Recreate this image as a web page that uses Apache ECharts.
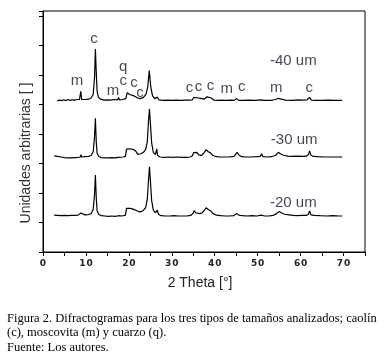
<!DOCTYPE html>
<html>
<head>
<meta charset="utf-8">
<script src="https://cdn.jsdelivr.net/npm/echarts@6/dist/echarts.min.js"></script>
<style>
  html, body { margin: 0; padding: 0; background: #fff; }
  #chart { width: 387px; height: 360px; }
</style>
</head>
<body>
<div id="chart"></div>
<script>
// 2θ / intensidad (unidades arbitrarias, con desplazamiento vertical)
const trace40 = [
  [3.3, 5.12], [3.8, 5.15], [4.3, 5.13], [4.8, 5.16], [5.3, 5.13], [5.8, 5.17], [6.3, 5.14], [6.8, 5.16],
  [7.3, 5.14], [7.8, 5.17], [8.5, 5.17],
  [8.8, 5.45], [9.0, 5.17], [9.8, 5.17], [10.6, 5.18], [11.2, 5.22], [11.7, 5.35], [12.0, 5.9], [12.2, 6.88],
  [12.4, 6.1], [12.6, 5.45], [12.9, 5.25], [13.4, 5.18], [14.2, 5.15], [15.0, 5.16], [15.8, 5.15], [16.6, 5.17],
  [17.4, 5.16], [17.6, 5.24], [17.8, 5.16], [18.6, 5.17], [19.3, 5.2], [19.6, 5.4], [19.9, 5.43], [20.2, 5.34],
  [20.6, 5.38], [21.0, 5.3], [21.5, 5.27], [22.0, 5.22], [22.6, 5.2], [23.4, 5.24], [24.0, 5.35], [24.4, 5.6],
  [24.75, 6.15], [25.1, 5.6], [25.5, 5.3], [26.0, 5.2], [26.6, 5.25], [27.0, 5.16], [28, 5.14], [29, 5.15],
  [30, 5.14], [31, 5.15], [32, 5.14], [33, 5.15], [34, 5.15], [34.8, 5.16], [35.1, 5.24], [35.5, 5.19],
  [35.9, 5.23], [36.3, 5.17], [37.0, 5.2], [37.5, 5.18], [38.2, 5.26], [38.6, 5.2], [39.2, 5.22], [39.8, 5.15],
  [40.6, 5.14], [41.5, 5.15], [42.5, 5.14], [43.5, 5.15], [44.5, 5.14], [45.1, 5.2], [45.6, 5.14], [46.5, 5.14],
  [48, 5.15], [49.5, 5.14], [50.8, 5.16], [51.5, 5.14], [53, 5.14], [54.2, 5.17], [54.8, 5.21], [55.5, 5.18],
  [56.5, 5.15], [58, 5.14], [59.5, 5.16], [60.5, 5.15], [61.5, 5.16], [62.1, 5.24], [62.5, 5.15], [63.5, 5.14],
  [65, 5.14], [66.5, 5.15], [68, 5.14], [69.7, 5.14]
]
const trace30 = [
  [2.6, 3.26], [3.4, 3.24], [4.2, 3.22], [5.0, 3.2], [5.8, 3.19], [6.6, 3.19], [7.4, 3.2], [8.2, 3.21],
  [8.7, 3.22], [8.85, 3.3], [9.0, 3.22], [9.8, 3.23], [10.6, 3.24], [11.2, 3.27], [11.7, 3.4], [12.0, 3.9],
  [12.2, 4.53], [12.4, 3.75], [12.6, 3.35], [13.0, 3.24], [13.6, 3.2], [14.4, 3.19], [15.2, 3.19], [16.0, 3.2],
  [16.8, 3.19], [17.5, 3.21], [17.7, 3.26], [17.9, 3.21], [18.6, 3.22], [19.2, 3.24], [19.45, 3.49], [19.8, 3.52],
  [20.2, 3.5], [20.6, 3.51], [21.1, 3.47], [21.6, 3.42], [22.1, 3.31], [22.8, 3.33], [23.4, 3.38], [23.9, 3.47],
  [24.3, 3.75], [24.6, 4.5], [24.8, 4.85], [25.0, 4.4], [25.3, 3.7], [25.7, 3.38], [26.2, 3.3], [26.5, 3.5],
  [26.7, 3.27], [27.3, 3.22], [28.3, 3.21], [29.3, 3.22], [30.3, 3.21], [31.3, 3.22], [32.3, 3.21], [33.3, 3.21],
  [34.3, 3.22], [34.8, 3.26], [35.1, 3.37], [35.4, 3.32], [35.8, 3.38], [36.3, 3.29], [36.9, 3.27], [37.5, 3.36],
  [38.0, 3.47], [38.5, 3.4], [39.0, 3.36], [39.6, 3.27], [40.4, 3.23], [41.4, 3.22], [42.4, 3.22], [43.4, 3.22],
  [44.5, 3.24], [45.2, 3.38], [45.7, 3.28], [46.3, 3.23], [47.3, 3.22], [48.5, 3.22], [49.7, 3.23], [50.6, 3.24],
  [50.9, 3.33], [51.2, 3.23], [52.2, 3.22], [53.2, 3.23], [54.2, 3.28], [54.8, 3.38], [55.4, 3.32], [56.0, 3.28],
  [57.0, 3.25], [58.0, 3.24], [59.3, 3.25], [60.2, 3.24], [61.3, 3.25], [61.8, 3.3], [62.1, 3.43], [62.4, 3.28],
  [63.0, 3.24], [64.0, 3.23], [65.5, 3.22], [67.0, 3.22], [68.5, 3.22], [69.7, 3.22]
]
const trace20 = [
  [2.6, 1.25], [3.4, 1.24], [4.2, 1.23], [5.0, 1.24], [5.8, 1.23], [6.6, 1.24], [7.4, 1.24], [8.2, 1.25],
  [8.6, 1.27], [8.8, 1.32], [9.0, 1.26], [9.8, 1.26], [10.6, 1.27], [11.2, 1.3], [11.7, 1.45], [12.0, 1.95],
  [12.2, 2.61], [12.4, 1.85], [12.6, 1.4], [13.0, 1.27], [13.6, 1.23], [14.4, 1.22], [15.2, 1.21], [16.0, 1.22],
  [16.8, 1.21], [17.6, 1.23], [18.4, 1.22], [19.2, 1.25], [19.45, 1.48], [19.8, 1.52], [20.3, 1.48], [20.8, 1.46],
  [21.4, 1.43], [22.0, 1.39], [22.6, 1.36], [23.3, 1.4], [23.9, 1.5], [24.3, 1.8], [24.6, 2.5], [24.8, 2.89],
  [25.0, 2.45], [25.3, 1.75], [25.7, 1.42], [26.2, 1.33], [26.6, 1.42], [26.9, 1.28], [27.5, 1.23], [28.5, 1.22],
  [29.5, 1.22], [30.5, 1.23], [31.5, 1.22], [32.5, 1.22], [33.5, 1.22], [34.4, 1.24], [34.9, 1.3], [35.2, 1.4],
  [35.6, 1.33], [36.0, 1.38], [36.4, 1.3], [37.0, 1.32], [37.6, 1.42], [38.0, 1.5], [38.5, 1.44], [39.0, 1.4],
  [39.6, 1.3], [40.4, 1.25], [41.4, 1.23], [42.4, 1.22], [43.4, 1.22], [44.4, 1.23], [45.1, 1.31], [45.6, 1.25],
  [46.4, 1.23], [47.5, 1.22], [48.7, 1.23], [49.8, 1.22], [50.8, 1.25], [51.6, 1.22], [52.6, 1.22], [53.6, 1.24],
  [54.4, 1.3], [55.0, 1.37], [55.6, 1.32], [56.3, 1.28], [57.3, 1.26], [58.3, 1.24], [59.3, 1.23], [60.3, 1.24],
  [61.3, 1.24], [61.8, 1.28], [62.1, 1.39], [62.4, 1.26], [63.2, 1.24], [64.5, 1.23], [66.0, 1.22], [67.5, 1.23],
  [69.0, 1.22], [69.7, 1.22]
]

// identificación de fases sobre el difractograma superior
const phaseMarks = [
  ['m', 7.9, 5.8], ['c', 11.9, 7.22], ['m', 16.3, 5.46], ['q', 18.7, 6.27], ['c', 18.7, 5.8],
  ['c', 21.2, 5.73], ['c', 22.6, 5.39], ['c', 34.1, 5.56], ['c', 36.2, 5.59], ['c', 39.0, 5.63],
  ['m', 42.8, 5.53], ['c', 46.3, 5.59], ['m', 54.3, 5.56], ['c', 62.0, 5.56]
]
const sizeLabels = [['-40 um', 58.3, 6.47], ['-30 um', 58.5, 3.8], ['-20 um', 58.3, 1.66]]

const xTicks = { min: 0, max: 75, step: 5 }

const chart = echarts.init(document.getElementById('chart'), null, { renderer: 'canvas' })

const lineSeries = (data) => ({
  type: 'line',
  data,
  showSymbol: false,
  symbol: 'none',
  silent: true,
  lineStyle: { color: '#000', width: 1.2 },
})

const textSeries = (items, fontSize) => ({
  type: 'scatter',
  symbolSize: 0,
  silent: true,
  data: items.map(([t, x, y]) => ({ name: t, value: [x, y] })),
  label: {
    show: true,
    position: 'inside',
    formatter: p => p.name,
    color: '#14142a',
    fontFamily: 'Liberation Sans',
    fontSize,
  },
})

chart.setOption({
  animation: false,
  backgroundColor: '#fff',
  grid: { left: 43, right: 22, top: 11, bottom: 108, show: true, borderColor: '#000', borderWidth: 1 },
  xAxis: {
    type: 'value',
    min: xTicks.min,
    max: xTicks.max,
    interval: xTicks.step,
    axisLine: { lineStyle: { color: '#000', width: 1 } },
    axisTick: { inside: false, length: 4, lineStyle: { color: '#000' } },
    axisLabel: {
      margin: 7,
      color: '#222',
      fontFamily: 'DejaVu Sans',
      fontWeight: 'bold',
      fontSize: 9,
      formatter: v => (v % 10 === 0 && v < 75 ? String(v).split('').join('\u200a') : ''),
    },
    splitLine: { show: false },
  },
  yAxis: {
    type: 'value',
    min: 0,
    max: 8.17,
    interval: 1,
    axisLine: { show: true, lineStyle: { color: '#000', width: 1 } },
    axisTick: { show: true, inside: false, length: 4, lineStyle: { color: '#000' } },
    axisLabel: { show: false },
    splitLine: { show: false },
  },
  graphic: [
    {
      type: 'text', x: 26, y: 153, rotation: Math.PI / 2,
      style: { text: 'Unidades arbitrarias [ ]', fill: '#333', font: '14px "Liberation Sans"', textAlign: 'center', textVerticalAlign: 'middle' },
    },
    {
      type: 'text', x: 200, y: 283,
      style: { text: '2 Theta [°]', fill: '#222', font: '14px "Liberation Sans"', textAlign: 'center', textVerticalAlign: 'middle' },
    },
    {
      type: 'text', x: 7, y: 319,
      style: { text: 'Figura 2. Difractogramas para los tres tipos de tamaños analizados; caolín', fill: '#000', font: '12.5px "Liberation Serif"', textAlign: 'left', textVerticalAlign: 'middle' },
    },
    {
      type: 'text', x: 7, y: 333,
      style: { text: '(c), moscovita (m) y cuarzo (q).', fill: '#000', font: '12.5px "Liberation Serif"', textAlign: 'left', textVerticalAlign: 'middle' },
    },
    {
      type: 'text', x: 7, y: 348,
      style: { text: 'Fuente: Los autores.', fill: '#000', font: '12.5px "Liberation Serif"', textAlign: 'left', textVerticalAlign: 'middle' },
    },
  ],
  series: [
    lineSeries(trace40),
    lineSeries(trace30),
    lineSeries(trace20),
    textSeries(phaseMarks, 15),
    textSeries(sizeLabels, 15),
  ],
})
</script>
</body>
</html>
